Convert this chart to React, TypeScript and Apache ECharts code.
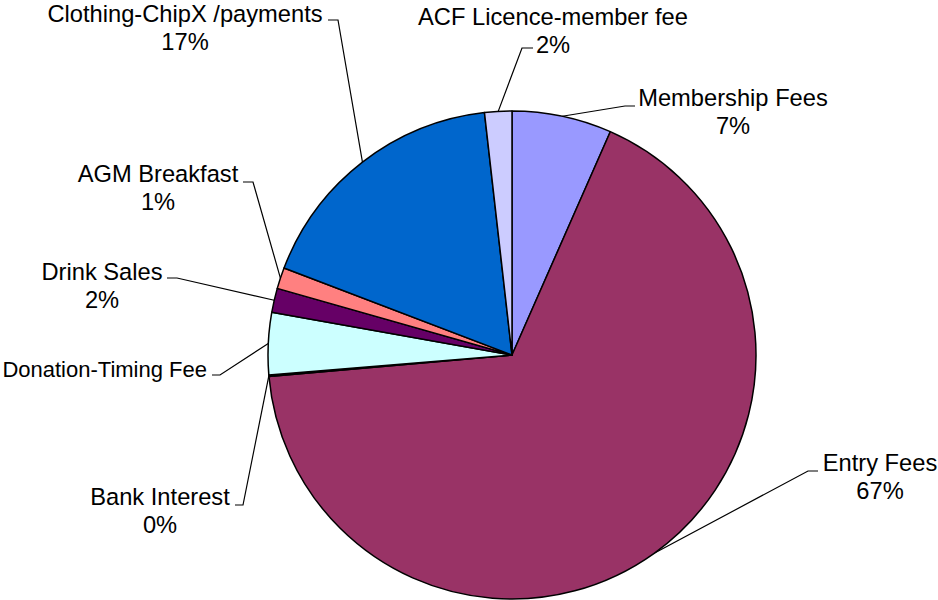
import React, { useEffect, useRef } from "react";
import * as echarts from "echarts";

const categories = [
  "Membership Fees",
  "Entry Fees",
  "Bank Interest",
  "Donation-Timing Fee",
  "Drink Sales",
  "AGM Breakfast",
  "Clothing-ChipX /payments",
  "ACF Licence-member fee",
];
const values = [6.6, 67.0, 0.1, 4.1, 1.6, 1.4, 17.4, 1.8];
const showPercent = [true, true, true, false, true, true, true, true];
const colors = ["#9999FF", "#993366", "#FFFFCC", "#CCFFFF", "#660066", "#FF8080", "#0066CC", "#CCCCFF"];

// label layout: label anchor x, y, align, leader bend point, leader end point, font size
const labelPlacement: [number, number, string, number, number, number, number, number][] = [
  [733, 112, "center", 625, 106, 635, 106, 23.7],
  [880, 477, "center", 808, 471, 818, 471, 23.7],
  [160, 511, "center", 243, 505, 235, 505, 23.7],
  [207, 369.5, "right", 220, 375, 212, 375, 22],
  [102, 286, "center", 177, 278, 167, 278, 23.7],
  [158, 188, "center", 253, 182, 243, 182, 23.7],
  [185, 27.5, "center", 338, 20, 328, 20, 23.7],
  [553, 31, "center", 522, 48, 533, 48, 23.7],
];

export default function App() {
  const ref = useRef<HTMLDivElement>(null);
  useEffect(() => {
    if (!ref.current) return;
    const chart = echarts.init(ref.current, null, { renderer: "svg" });
    chart.setOption({
      animation: false,
      backgroundColor: "#ffffff",
      series: [
        {
          type: "pie",
          center: [512, 355],
          radius: 244,
          startAngle: 90,
          clockwise: true,
          avoidLabelOverlap: false,
          percentPrecision: 0,
          data: categories.map((name, i) => ({
            name,
            value: values[i],
            itemStyle: { color: colors[i] },
            label: { fontSize: labelPlacement[i][7] },
          })),
          itemStyle: { borderColor: "#000000", borderWidth: 1.5 },
          label: {
            show: true,
            position: "outside",
            color: "#000000",
            fontSize: 23.7,
            lineHeight: 28,
            fontFamily: "'Liberation Sans', Arial, sans-serif",
            formatter: (p: any) =>
              showPercent[p.dataIndex] ? `${p.name}\n${p.percent}%` : p.name,
          },
          labelLine: {
            show: true,
            length: 10,
            length2: 10,
            lineStyle: { color: "#000000", width: 1.2 },
          },
          emphasis: { disabled: true },
          labelLayout: (params: any) => {
            const lp = labelPlacement[params.dataIndex];
            const start = params.labelLinePoints ? params.labelLinePoints[0] : [lp[3], lp[4]];
            return {
              x: lp[0],
              y: lp[1],
              align: lp[2],
              verticalAlign: "middle",
              labelLinePoints: [start, [lp[3], lp[4]], [lp[5], lp[6]]],
            };
          },
        },
      ],
    });
    return () => chart.dispose();
  }, []);
  return (
    <div
      ref={ref}
      style={{ position: "absolute", left: 0, top: 0, width: 938, height: 600 }}
    />
  );
}
